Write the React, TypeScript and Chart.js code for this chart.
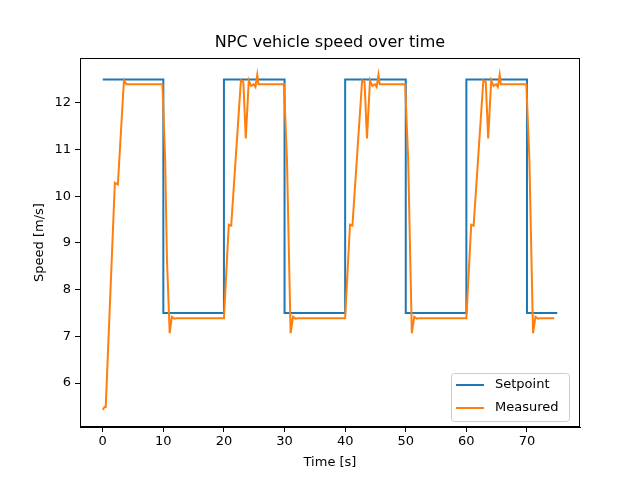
import React, { useEffect, useRef } from "react";
import { Chart, registerables } from "chart.js";
Chart.register(...registerables);

const setpointT = [0, 10, 10, 20, 20, 30, 30, 40, 40, 50, 50, 60, 60, 70, 70, 75];
const setpointV = [12.5, 12.5, 7.5, 7.5, 12.5, 12.5, 7.5, 7.5, 12.5, 12.5, 7.5, 7.5, 12.5, 12.5, 7.5, 7.5];

const measuredT = [
  0, 0.3, 0.5, 2.0, 2.5, 3.5, 3.9, 9.85, 10.3, 10.6, 11.05, 11.4, 11.8, 12.2,
  20.0, 20.8, 21.2, 22.8, 23.2, 23.6, 24.1, 24.5, 24.9, 25.2, 25.5, 25.7, 29.9, 30.4, 31.0, 31.4, 31.8, 32.2,
  40.0, 40.8, 41.2, 42.8, 43.2, 43.6, 44.1, 44.5, 44.9, 45.2, 45.5, 45.7, 49.9, 50.4, 51.0, 51.4, 51.8, 52.2,
  60.0, 60.8, 61.2, 62.8, 63.2, 63.6, 64.1, 64.5, 64.9, 65.2, 65.5, 65.7, 69.9, 70.4, 71.0, 71.4, 71.8, 72.2,
  74.5,
];
const measuredV = [
  5.43, 5.49, 5.49, 10.29, 10.25, 12.48, 12.4, 12.4, 10.8, 8.64, 7.07, 7.42, 7.38, 7.39,
  7.39, 9.39, 9.37, 12.48, 12.45, 11.24, 12.48, 12.36, 12.4, 12.34, 12.6, 12.4, 12.4, 10.78, 7.07, 7.42, 7.38, 7.39,
  7.39, 9.39, 9.37, 12.48, 12.45, 11.24, 12.48, 12.36, 12.4, 12.34, 12.6, 12.4, 12.4, 10.78, 7.07, 7.42, 7.38, 7.39,
  7.39, 9.39, 9.37, 12.48, 12.45, 11.24, 12.48, 12.36, 12.4, 12.34, 12.6, 12.4, 12.4, 10.78, 7.07, 7.42, 7.38, 7.39,
  7.39,
];

const xTicks = [0, 10, 20, 30, 40, 50, 60, 70];
const yTicks = [6, 7, 8, 9, 10, 11, 12];
const FONT = "DejaVu Sans";

export default function App() {
  const ref = useRef<HTMLCanvasElement>(null);
  useEffect(() => {
    const overlay = {
      id: "overlay",
      afterDraw(chart: any) {
        const { ctx, chartArea: a } = chart;
        ctx.save();
        ctx.fillStyle = "#000";
        ctx.textAlign = "center";
        ctx.textBaseline = "middle";
        ctx.font = `16px ${FONT}`;
        ctx.fillText("NPC vehicle speed over time", (a.left + a.right) / 2, 43);
        ctx.font = `13px ${FONT}`;
        ctx.fillText("Time [s]", (a.left + a.right) / 2, 463);
        ctx.save();
        ctx.translate(40, (a.top + a.bottom) / 2);
        ctx.rotate(-Math.PI / 2);
        ctx.fillText("Speed [m/s]", 0, 0);
        ctx.restore();
        const lx = a.right - 129, ly = a.bottom - 54;
        ctx.fillStyle = "rgba(255,255,255,0.8)";
        ctx.strokeStyle = "#ccc";
        ctx.lineWidth = 1;
        ctx.beginPath();
        (ctx as any).roundRect(lx + 0.5, ly + 0.5, 118, 48, 3);
        ctx.fill();
        ctx.stroke();
        const items = [["Setpoint", "#1f77b4"], ["Measured", "#ff7f0e"]];
        items.forEach(([t, c], i) => {
          const y = ly + 12 + i * 23;
          ctx.strokeStyle = c;
          ctx.lineWidth = 2;
          ctx.beginPath();
          ctx.moveTo(lx + 5, y);
          ctx.lineTo(lx + 33, y);
          ctx.stroke();
          ctx.fillStyle = "#000";
          ctx.textAlign = "left";
          ctx.fillText(t, lx + 44, y);
        });
        ctx.strokeStyle = "#000";
        ctx.lineWidth = 1;
        ctx.strokeRect(a.left + 0.5, a.top + 0.5, a.right - a.left - 1, a.bottom - a.top - 1);
        ctx.restore();
      },
    };
    const chart = new Chart(ref.current!, {
      type: "line",
      data: {
        datasets: [
          {
            label: "Setpoint",
            data: setpointT.map((x, i) => ({ x, y: setpointV[i] })),
            borderColor: "#1f77b4",
            borderWidth: 2,
            pointRadius: 0,
            tension: 0,
            order: 1,
          },
          {
            label: "Measured",
            data: measuredT.map((x, i) => ({ x, y: measuredV[i] })),
            borderColor: "#ff7f0e",
            borderWidth: 2,
            pointRadius: 0,
            tension: 0,
            order: 0,
          },
        ],
      },
      options: {
        animation: false,
        responsive: false,
        layout: { padding: { top: 58, right: 60, left: 0, bottom: 0 } },
        plugins: { legend: { display: false }, title: { display: false }, tooltip: { enabled: false } },
        scales: {
          x: {
            type: "linear",
            min: -3.75,
            max: 78.75,
            afterFit: (s: any) => { s.height = 53; },
            afterBuildTicks: (s: any) => { s.ticks = xTicks.map((v) => ({ value: v })); },
            ticks: { color: "#000", font: { family: FONT, size: 13 }, maxRotation: 0, padding: 2 },
            grid: { drawOnChartArea: false, tickLength: 5, tickColor: "#000" },
            border: { color: "#000" },
          },
          y: {
            type: "linear",
            min: 5.06,
            max: 12.96,
            afterFit: (s: any) => { s.width = 80; },
            afterBuildTicks: (s: any) => { s.ticks = yTicks.map((v) => ({ value: v })); },
            ticks: { color: "#000", font: { family: FONT, size: 13 }, padding: 4 },
            grid: { drawOnChartArea: false, tickLength: 5, tickColor: "#000" },
            border: { color: "#000" },
          },
        },
      },
      plugins: [overlay],
    });
    return () => chart.destroy();
  }, []);
  return (
    <div style={{ position: "fixed", left: 0, top: 0, width: 640, height: 480, background: "#fff" }}>
      <canvas ref={ref} width={640} height={480} />
    </div>
  );
}
